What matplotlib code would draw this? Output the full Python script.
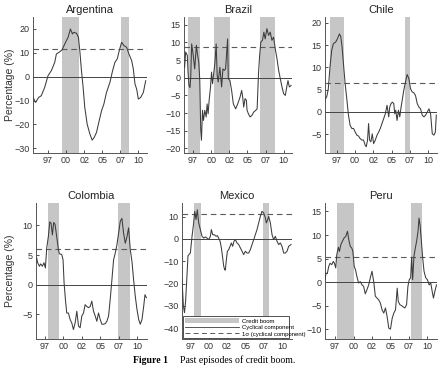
import matplotlib
matplotlib.use("Agg")
import matplotlib.pyplot as plt
from matplotlib.patches import Patch
from matplotlib.lines import Line2D

plt.rcParams['font.family'] = ['Liberation Sans', 'DejaVu Sans']

# --- Data (decimal years, % cyclical component) ---
tick_pos = [1997.5, 2000, 2002.5, 2005, 2007.5, 2010]
tick_lab = ['97', '00', '02', '05', '07', '10']

arg_year = [1995.42, 1995.79, 1996.2, 1996.57, 1997.04, 1997.5, 1997.96, 1998.43, 1998.66, 1999.03,
            1999.44, 1999.82, 2000.28, 2000.6, 2000.88, 2001.07, 2001.44, 2001.71, 2001.9, 2002.13,
            2002.36, 2002.59, 2002.92, 2003.29, 2003.61, 2003.89, 2004.21, 2004.58, 2004.91, 2005.23,
            2005.6, 2006.07, 2006.44, 2006.76, 2007.08, 2007.36, 2007.69, 2008.01, 2008.38, 2008.7,
            2009.08, 2009.31, 2009.54, 2009.77, 2010.0, 2010.33, 2010.7, 2011.02]
arg_val = [-8.7, -10.8, -8.7, -8, -4.5, 0.4, 2.5, 6, 9.5, 10.2,
           11.2, 13.7, 16.5, 20, 17.9, 18.6, 18.2, 16.5, 10.9, 2.5,
           -4.5, -12.9, -19.9, -24, -26.6, -25.5, -23.4, -18.5, -14.3, -11.5,
           -6.6, -2.4, 2.5, 6, 7.4, 10.9, 14.4, 13, 12.3, 9.5,
           6.7, 3.2, -3.1, -5.2, -9.4, -8.7, -6.6, -1.7]
arg_boom = [(1999.44, 2001.76), (2007.55, 2008.7)]
arg_sigma = 11.6

bra_year = [1996.34, 1996.48, 1996.71, 1996.81, 1996.94, 1997.08, 1997.18, 1997.31, 1997.5, 1997.73,
            1997.96, 1998.10, 1998.29, 1998.43, 1998.56, 1998.66, 1998.80, 1998.94, 1999.12, 1999.31,
            1999.44, 1999.58, 1999.72, 1999.91, 2000.05, 2000.19, 2000.32, 2000.51, 2000.69, 2000.83,
            2000.97, 2001.20, 2001.44, 2001.62, 2001.81, 2001.99, 2002.27, 2002.36, 2002.59, 2002.82,
            2003.06, 2003.38, 2003.66, 2003.98, 2004.21, 2004.35, 2004.49, 2004.68, 2004.86, 2004.95,
            2005.14, 2005.37, 2005.60, 2005.88, 2006.16, 2006.34, 2006.53, 2006.67, 2006.85, 2007.08,
            2007.27, 2007.45, 2007.69, 2007.92, 2008.15, 2008.38, 2008.61, 2008.84, 2009.08, 2009.31,
            2009.54, 2009.77, 2010.00, 2010.23, 2010.46, 2010.60, 2010.79, 2011.02]
bra_val = [3.0, 7.3, 6.3, 1.6, -2.2, -2.8, 0.2, 9.6, 6.8, 2.5,
           9.2, 6.8, 4.4, -0.8, -14.9, -17.7, -9.2, -12.1, -9.2, -11.1,
           -7.4, -10.2, -6.4, -2.6, 1.6, -1.7, 0.7, 4.0, 9.6, 0.7,
           -1.2, 3.0, -2.6, 2.5, 2.1, 2.5, 11.0, -0.3, -0.8, -3.6,
           -7.4, -8.8, -7.4, -5.5, -3.6, -5.5, -8.3, -5.9, -6.4, -9.2,
           -10.2, -11.1, -10.7, -9.7, -9.2, -8.8, 1.1, 5.8, 10.1, 10.6,
           12.9, 11.0, 13.9, 12.0, 12.9, 10.6, 11.5, 8.2, 5.4, 2.1,
           -0.3, -2.6, -4.5, -5.0, -2.2, -0.8, -2.6, -2.2]
bra_boom = [(1996.81, 1998.43), (2000.37, 2002.55), (2006.76, 2008.84)]
bra_sigma = 8.7

chl_year = [1995.90, 1996.13, 1996.35, 1996.58, 1996.81, 1997.04, 1997.36, 1997.59, 1997.87, 1998.05,
            1998.23, 1998.42, 1998.65, 1998.87, 1999.10, 1999.33, 1999.56, 1999.79, 2000.02, 2000.25,
            2000.48, 2000.71, 2000.94, 2001.16, 2001.39, 2001.53, 2001.71, 2001.85, 2001.99, 2002.17,
            2002.35, 2002.54, 2002.77, 2003.00, 2003.23, 2003.45, 2003.68, 2003.91, 2004.14, 2004.37,
            2004.60, 2004.74, 2004.92, 2005.10, 2005.29, 2005.42, 2005.56, 2005.74, 2005.93, 2006.11,
            2006.29, 2006.48, 2006.66, 2006.89, 2007.12, 2007.35, 2007.58, 2007.81, 2008.03, 2008.26,
            2008.49, 2008.72, 2008.95, 2009.18, 2009.41, 2009.64, 2009.87, 2010.10, 2010.32, 2010.55,
            2010.78, 2010.97, 2011.10]
chl_val = [2.8, 3.4, 5.2, 10.1, 13.8, 15.3, 15.7, 16.4, 17.5, 16.9,
           14.6, 10.8, 6.3, 3.0, -0.7, -3.0, -3.7, -3.7, -4.5, -5.2,
           -5.4, -6.0, -6.3, -6.3, -7.5, -7.8, -6.3, -2.6, -6.3, -6.7,
           -4.9, -7.1, -6.3, -5.2, -4.5, -3.7, -2.6, -1.5, -0.4, 1.5,
           -1.1, 1.1, 1.9, 2.2, 1.9, -0.4, 0.4, -1.9, 0.4, -1.1,
           1.1, 3.0, 4.9, 6.7, 8.4, 7.5, 5.2, 4.5, 4.3, 3.7,
           1.9, 1.1, 0.7, -0.7, -1.1, -0.7, 0.0, 0.7, -0.4, -4.9,
           -5.2, -4.5, -0.7]
chl_boom = [(1996.58, 1998.55), (2006.89, 2007.57)]
chl_sigma = 6.5

col_year = [1996.36, 1996.50, 1996.73, 1996.91, 1997.14, 1997.36, 1997.55, 1997.73, 1997.95, 1998.14,
            1998.32, 1998.50, 1998.68, 1998.86, 1999.09, 1999.32, 1999.45, 1999.77, 1999.95, 2000.09,
            2000.27, 2000.45, 2000.68, 2000.91, 2001.14, 2001.36, 2001.59, 2001.82, 2002.05, 2002.27,
            2002.50, 2002.73, 2002.95, 2003.18, 2003.41, 2003.64, 2003.86, 2004.09, 2004.32, 2004.54,
            2004.77, 2005.00, 2005.23, 2005.45, 2005.68, 2005.91, 2006.14, 2006.36, 2006.59, 2006.82,
            2007.04, 2007.27, 2007.50, 2007.73, 2007.95, 2008.18, 2008.41, 2008.64, 2008.86, 2009.09,
            2009.32, 2009.54, 2009.77, 2010.00, 2010.23, 2010.45, 2010.68, 2010.91, 2011.09, 2011.27]
col_val = [4.5, 3.7, 3.1, 3.5, 3.1, 3.7, 2.8, 6.2, 8.1, 10.6,
           10.4, 8.4, 10.5, 10.2, 8.1, 5.9, 5.2, 5.1, 4.2, 0.3,
           -2.5, -4.8, -4.8, -5.9, -6.5, -7.6, -6.5, -4.5, -7.0, -7.3,
           -5.3, -4.8, -3.4, -3.7, -3.9, -3.7, -2.8, -4.5, -5.3, -6.2,
           -4.8, -5.9, -6.7, -6.7, -6.6, -6.2, -5.3, -2.5, 0.8, 4.2,
           5.3, 6.7, 8.7, 10.7, 11.2, 8.7, 7.0, 8.1, 9.6, 5.9,
           3.9, 0.8, -2.0, -4.2, -5.9, -6.7, -5.9, -3.7, -1.7, -2.2]
col_boom = [(1997.95, 1999.45), (2007.36, 2009.09)]
col_sigma = 6.1

mex_year = [1996.36, 1996.55, 1996.70, 1996.85, 1997.18, 1997.5, 1997.73, 1997.95, 1998.09, 1998.27,
            1998.45, 1998.64, 1998.86, 1999.09, 1999.32, 1999.55, 1999.77, 2000.0, 2000.23, 2000.36,
            2000.55, 2000.77, 2001.0, 2001.18, 2001.36, 2001.55, 2001.73, 2001.91, 2002.05, 2002.18,
            2002.27, 2002.41, 2002.55, 2002.73, 2002.91, 2003.09, 2003.27, 2003.45, 2003.64, 2003.86,
            2004.09, 2004.32, 2004.55, 2004.77, 2005.0, 2005.23, 2005.45, 2005.68, 2005.91, 2006.14,
            2006.36, 2006.59, 2006.82, 2007.04, 2007.27, 2007.5, 2007.73, 2007.86, 2008.05, 2008.18,
            2008.41, 2008.64, 2008.86, 2009.09, 2009.32, 2009.54, 2009.77, 2010.0, 2010.23, 2010.45,
            2010.68, 2010.91, 2011.23]
mex_val = [-18.0, -30.0, -33.0, -28.0, -7.5, -6.3, 1.2, 7.2, 12.4, 8.7,
           13.1, 7.2, 4.2, 1.2, 0.4, 0.9, 0.4, -0.3, 1.2, 4.2,
           1.9, 1.9, 1.2, 1.5, 0.4, -1.0, -4.0, -8.5, -12.2, -13.7,
           -14.0, -9.3, -5.5, -4.8, -3.3, -1.8, -3.3, -1.0, -0.3, -1.8,
           -2.5, -4.0, -5.5, -7.0, -5.5, -6.3, -6.3, -4.8, -2.5, -0.3,
           1.9, 4.2, 7.2, 10.1, 12.4, 11.6, 9.4, 7.2, 8.7, 10.1,
           7.2, 1.9, -0.3, 1.2, -1.0, -2.5, -1.8, -3.3, -6.3, -6.3,
           -5.5, -3.3, -2.5]
mex_boom = [(1998.05, 1998.95), (2007.36, 2008.27)]
mex_sigma = 11.3

per_year = [1996.14, 1996.27, 1996.45, 1996.64, 1996.82, 1997.05, 1997.27, 1997.41, 1997.59, 1997.73,
            1997.95, 1998.09, 1998.27, 1998.50, 1998.73, 1998.95, 1999.18, 1999.36, 1999.55, 1999.77,
            1999.91, 2000.09, 2000.27, 2000.45, 2000.68, 2000.91, 2001.14, 2001.36, 2001.59, 2001.82,
            2002.05, 2002.27, 2002.50, 2002.73, 2002.95, 2003.18, 2003.41, 2003.64, 2003.86, 2004.09,
            2004.32, 2004.54, 2004.77, 2005.00, 2005.23, 2005.45, 2005.68, 2005.91, 2006.05, 2006.27,
            2006.50, 2006.73, 2006.95, 2007.18, 2007.36, 2007.54, 2007.73, 2007.86, 2008.00, 2008.18,
            2008.36, 2008.54, 2008.73, 2008.86, 2009.00, 2009.18, 2009.36, 2009.54, 2009.77, 2010.00,
            2010.23, 2010.45, 2010.68, 2010.82, 2011.00, 2011.23]
per_val = [0.5, 1.9, 1.8, 3.3, 4.0, 3.7, 4.4, 4.0, 3.0, 5.8,
           7.4, 6.5, 7.9, 8.7, 9.4, 9.7, 10.8, 9.0, 7.6, 7.2,
           6.5, 3.3, 2.6, 1.2, -0.2, 0.1, -0.6, -0.9, -2.5, -1.6,
           -0.6, 0.9, 2.3, 0.1, -3.0, -3.4, -3.8, -4.5, -5.9, -6.6,
           -5.5, -7.3, -9.8, -10.0, -7.7, -6.6, -5.9, -1.3, -4.1, -4.8,
           -5.0, -5.3, -5.5, -4.8, -0.9, 0.5, 0.9, 5.3, 0.5, 5.5,
           7.2, 8.7, 10.8, 13.6, 12.2, 8.7, 5.1, 2.3, 0.9, 0.5,
           -0.6, -0.2, -2.3, -3.4, -2.0, -0.6]
per_boom = [(1997.82, 2000.09), (2007.73, 2009.32)]
per_sigma = 5.3

# --- Styling ---
LINE_C = '#3c3c3c'
BOOM_C = '#c6c6c6'
SIG_C = '#5a5a5a'

fig = plt.figure(figsize=(4.41, 3.77), dpi=100)

panels = [
    ('Argentina', arg_year, arg_val, arg_boom, arg_sigma, (-32, 25), range(-30, 21, 10), 1995.42, 2011.2, [0.0748, 0.5942, 0.2585, 0.3607]),
    ('Brazil', bra_year, bra_val, bra_boom, bra_sigma, (-21.3, 17.2), range(-20, 16, 5), 1996.25, 2011.15, [0.4172, 0.5942, 0.2449, 0.3607]),
    ('Chile', chl_year, chl_val, chl_boom, chl_sigma, (-9.2, 21.3), range(-5, 21, 5), 1995.9, 2011.2, [0.7370, 0.5942, 0.2540, 0.3607]),
    ('Colombia', col_year, col_val, col_boom, col_sigma, (-9.2, 13.8), range(-5, 11, 5), 1996.27, 2011.36, [0.0816, 0.1008, 0.2517, 0.3607]),
    ('Mexico', mex_year, mex_val, mex_boom, mex_sigma, (-44.8, 16.1), range(-40, 11, 10), 1996.36, 2011.36, [0.4127, 0.1008, 0.2494, 0.3607]),
    ('Peru', per_year, per_val, per_boom, per_sigma, (-12.1, 16.8), range(-10, 16, 5), 1996.14, 2011.3, [0.7370, 0.1008, 0.2540, 0.3607]),
]

for i, (name, yr, val, boom, sig, ylim, yt, x0, x1, rect) in enumerate(panels):
    ax = fig.add_axes(rect)
    for a, b in boom:
        ax.axvspan(a, b, color=BOOM_C, lw=0, zorder=1)
    ax.axhline(0, color='#444444', lw=0.7, zorder=2)
    ax.axhline(sig, color=SIG_C, lw=0.8, ls=(0, (5, 3.5)), zorder=2)
    ax.plot(yr, val, color=LINE_C, lw=0.75, zorder=3)
    ax.set_xlim(x0, x1)
    ax.set_ylim(*ylim)
    ax.set_xticks(tick_pos)
    ax.set_xticklabels(tick_lab)
    ax.set_yticks(list(yt))
    ax.tick_params(direction='in', length=2, width=0.6, labelsize=6.5, pad=2.5, colors='#333333')
    for s in ['top', 'right']:
        ax.spines[s].set_visible(False)
    for s in ['left', 'bottom']:
        ax.spines[s].set_linewidth(0.7)
        ax.spines[s].set_color('#555555')
    ax.set_title(name, fontsize=8, pad=3, color='#222222')
    if i % 3 == 0:
        ax.set_ylabel('Percentage (%)', fontsize=7.5, color='#333333')
        # anchor is the right edge of the rotated label: ~15 px from figure left
        ax.yaxis.set_label_coords((0.034 - rect[0]) / rect[2], 0.5)
    if name == 'Mexico':
        handles = [Patch(facecolor=BOOM_C, edgecolor='none'),
                   Line2D([], [], color=LINE_C, lw=0.6),
                   Line2D([], [], color=SIG_C, lw=0.7, ls=(0, (5, 3.5)))]
        labels = ['Credit boom', 'Cyclical component', '1σ (cyclical component)']
        leg = ax.legend(handles, labels, loc='lower left', bbox_to_anchor=(0.01, 0.005, 0.96, 0.23),
                        mode='expand', fontsize=4.3, handlelength=9, handleheight=0.9,
                        borderpad=0.3, labelspacing=0.15, handletextpad=0.6, fancybox=False,
                        framealpha=1, edgecolor='#333333', borderaxespad=0)
        leg.get_frame().set_linewidth(0.6)
        leg.set_zorder(5)

fig.text(0.302, 0.045, 'Figure 1', fontsize=7, fontweight='bold', family='Liberation Serif', va='center')
fig.text(0.408, 0.045, 'Past episodes of credit boom.', fontsize=7, family='Liberation Serif', va='center')

fig.savefig('out.png', dpi=100)
